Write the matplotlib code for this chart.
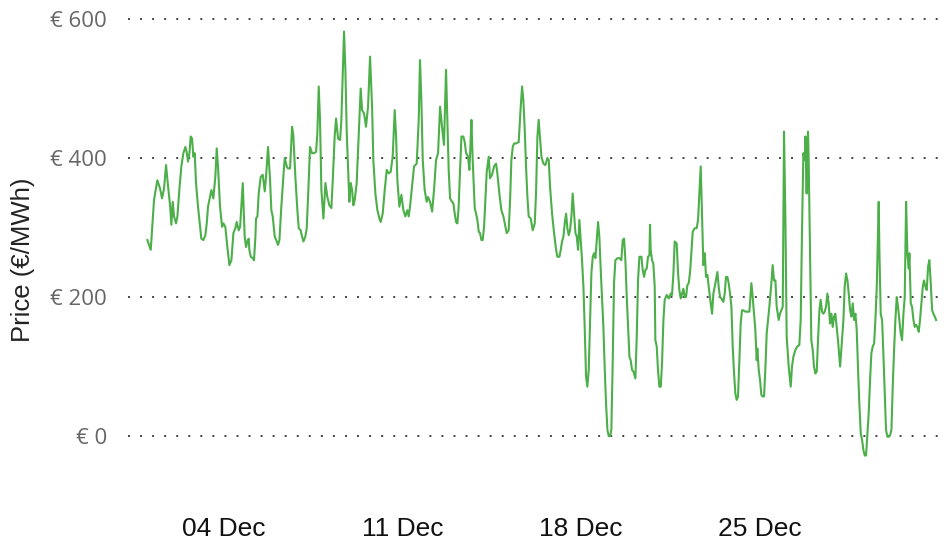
import matplotlib
matplotlib.use("Agg")
import matplotlib.pyplot as plt
import matplotlib.dates as mdates
from matplotlib.ticker import FuncFormatter
import pandas as pd

OUT = "out.png"

# hourly day-ahead price, Dec 2021 (hours since 01 Dec 00:00)
hours = [
    0.0, 3.2, 6.3, 9.4, 12.0, 13.8, 15.7, 17.6, 19.5, 21.4, 22.6, 23.9, 25.1, 27.0, 28.3, 30.1,
    32.0, 33.9, 35.8, 37.0, 38.3, 39.6, 40.8, 42.1, 43.3, 44.6, 45.8, 47.7, 49.0, 50.8, 52.7, 54.6,
    55.9, 57.1, 59.0, 60.3, 62.1, 64.0, 65.3, 66.5, 68.4, 70.3, 71.6, 73.4, 75.3, 77.2, 79.1, 81.0,
    82.8, 84.1, 86.0,
    87.3, 89.8, 91.6, 92.9, 94.1, 95.4, 96.0, 97.3, 99.2, 100.4, 101.7, 102.3, 103.6, 104.8, 106.7,
    108.6, 110.5, 111.7, 113.6, 115.5, 116.7, 118.0, 119.9, 121.8, 123.0, 124.3, 126.1, 128.0, 129.3,
    131.2, 132.4, 134.3, 136.2, 137.4, 139.3, 141.2, 142.5, 144.3, 145.6, 146.9, 148.7, 150.0, 151.9,
    153.1, 155.0, 156.9, 158.8, 160.0, 161.3, 162.5, 163.8, 165.7, 167.6, 169.4, 171.3, 173.2, 174.5,
    176.3, 177.6, 179.5,
    181.4, 182.6, 185.1, 186.4, 187.6, 188.9, 190.1, 191.4, 192.7, 193.9, 195.2, 197.0, 198.9, 200.8,
    202.1, 204.0, 205.8, 207.7, 209.6, 211.5, 212.7, 214.6, 216.5, 218.4, 219.6, 221.5, 223.4, 225.3,
    227.2, 229.0, 230.9, 232.8, 234.1, 235.3, 237.2, 239.1, 241.0, 242.8, 244.7, 246.0, 247.2, 249.1,
    251.0, 253.5, 255.4, 256.6, 257.9, 259.2, 261.0, 262.9, 264.2, 266.1, 268.0, 269.8, 271.7, 273.6,
    275.5, 276.7, 278.0, 279.2, 281.1, 282.4, 283.6, 284.9, 286.8, 288.0, 289.3, 290.5, 291.8, 293.0,
    294.3, 295.6, 297.4, 298.7, 300.0, 301.8, 303.1, 304.3, 305.0, 306.2, 308.1, 309.4, 310.6, 311.9,
    313.1, 314.4, 315.6, 316.9, 318.1, 319.4, 321.3, 322.5, 324.4, 326.3, 328.2, 329.4, 331.3, 333.2,
    335.1, 337.0, 338.2, 340.1, 341.4, 342.6, 343.9, 345.1, 347.0, 349.5, 351.4, 352.7, 353.9, 355.2,
    356.4, 357.7, 358.9, 360.8, 362.7, 364.6, 365.8, 367.1, 368.3,
    370.9, 372.7, 374.6, 376.5, 377.8, 379.0, 380.9, 382.8, 384.7, 385.9, 387.8, 389.1, 390.3, 391.6,
    392.8, 394.1, 395.3, 396.6, 397.8, 399.1, 400.3, 401.6, 402.9, 404.1, 405.4, 406.6, 407.9, 409.1,
    410.4, 411.6, 412.9, 414.1, 415.4, 416.7, 417.9, 419.2, 420.4, 421.7, 422.9, 424.2, 425.4, 426.7,
    427.9, 429.2, 430.5, 431.7, 433.0, 434.2, 435.5, 436.7, 438.0, 439.2, 440.5, 442.4, 444.3, 446.1,
    447.4, 448.7, 449.9, 451.2, 452.4, 453.7, 454.9, 456.2, 457.4, 459.3, 460.6, 461.8, 463.1,
    465.0, 466.2, 467.5, 468.7, 470.0, 471.2, 472.5, 473.1, 473.7, 475.0, 476.2, 477.5, 478.1, 479.4,
    480.6, 481.9, 483.2, 484.4, 485.7, 486.9, 488.8, 490.7, 492.6, 493.8, 495.1, 496.3, 498.2, 499.5,
    500.7, 502.0, 503.2, 504.5, 505.7, 507.0, 508.2, 509.5, 510.8, 512.0, 513.3, 515.1, 517.0, 518.3,
    519.5, 520.8, 522.0, 523.3, 524.6, 525.8, 527.1, 528.3, 530.2, 531.5, 532.7, 534.6, 536.5, 537.7,
    539.0, 540.2, 542.1, 543.4, 544.6, 545.9, 547.1, 548.4, 549.7, 550.9, 552.2, 553.4, 554.7, 555.9,
    557.2, 558.4, 559.7,
    560.9, 562.8, 564.7, 566.6, 568.5, 569.7, 571.0, 572.2, 573.5, 574.1, 575.4, 576.6, 577.9, 579.1,
    580.4, 581.6, 582.9, 584.2, 585.4, 587.3, 588.5, 589.8, 591.1, 592.3, 594.2, 595.4, 596.7, 598.0,
    599.2, 600.5, 601.7, 603.6, 605.5, 606.7, 608.0, 609.9, 611.8, 613.6, 614.9, 616.1, 617.4, 618.7,
    619.3, 619.9, 620.5, 621.2, 621.8, 622.4, 623.7, 624.9, 626.2, 627.4, 628.7, 630.0, 631.2, 632.5,
    633.7, 635.0, 636.2, 637.5, 638.7, 640.0, 641.2, 642.5, 643.8, 645.0, 646.3, 647.5, 648.8, 650.0,
    652.0, 653.8, 655.1, 656.3, 657.6, 658.9, 660.1, 661.4, 662.6, 663.9, 665.1, 666.4, 667.6, 668.9,
    670.1, 671.4, 672.7, 673.9, 675.2, 676.4, 677.7, 678.9, 680.2, 681.4, 682.7, 684.0, 685.2, 686.5,
    687.7, 688.3, 689.0, 690.2, 691.5, 692.7, 694.0, 695.2, 696.5, 697.8, 699.0, 700.3, 701.5, 702.8,
    704.0, 705.3, 706.5, 707.8, 709.0, 710.3, 711.6, 712.8, 714.1, 715.3, 716.6, 717.2, 718.5, 719.7,
    721.0, 722.2, 723.5, 724.7, 726.0, 727.2, 728.5, 729.8, 730.9, 732.3, 733.5, 734.8, 736.0, 737.3,
    738.6, 739.8, 741.1, 742.3,
]
price = [
    282, 268, 340, 368, 356, 342, 356, 390, 359, 332, 304, 337, 316, 306, 316, 354,
    388, 407, 416, 409, 395, 407, 431, 428, 402, 407, 364, 330, 311, 284, 282, 289,
    306, 330, 344, 354, 342, 373, 414, 388, 330, 301, 306, 301, 272, 246, 253, 292,
    299, 308, 296,
    301, 364, 287, 272, 280, 284, 268, 258, 256, 253, 287, 313, 316, 349, 373,
    376, 352, 373, 416, 368, 325, 316, 287, 280, 275, 282, 330, 373, 400,
    388, 385, 385, 445, 433, 373, 325, 299, 296, 287, 280, 287, 299, 368,
    416, 407, 407, 409, 435, 503, 455, 354, 313, 364, 344, 332, 328, 368,
    431, 457, 428,
    426, 455, 582, 527, 440, 388, 337, 364, 354, 332, 340, 364, 431, 500,
    469, 464, 445, 474, 546, 474, 397, 349, 325, 313, 308, 320, 354, 383,
    378, 380, 402, 469, 431, 368, 330, 347, 325, 316, 325, 316, 330, 359,
    388, 392, 455, 541, 483, 397, 354, 337, 344, 337, 323, 354, 397, 407,
    474, 455, 435, 419, 527, 455, 383, 342, 337, 335, 320, 308, 306, 330,
    383, 431, 431, 423, 407, 402, 383, 426, 455, 397, 328, 320, 311, 294,
    292, 282, 282, 301, 340, 380, 402, 371, 376, 388, 392, 378, 349, 325,
    316, 301, 292, 296, 340, 397, 416, 421, 421, 423, 474, 503, 483, 440,
    388, 344, 316, 313, 296, 306, 349, 431, 455,
    402, 392, 390, 400, 397, 359, 320, 292, 268, 258, 258, 268, 280, 287,
    306, 320, 299, 289, 296, 316, 349, 320, 292, 287, 268, 311, 282, 253,
    215, 157, 85, 71, 95, 167, 234, 258, 263, 256, 282, 308, 287, 239,
    200, 157, 95, 47, 9, 0, 0, 9, 109, 220, 253, 256, 256, 253,
    282, 284, 253, 200, 157, 114, 109, 95, 93, 83, 143, 224, 258,
    258, 239, 229, 239, 241, 258, 260, 304, 268, 253, 248, 215, 138, 129,
    95, 71, 71, 105, 167, 196, 203, 198, 205, 203, 234, 280, 277, 234,
    210, 198, 205, 212, 200, 200, 217, 220, 236, 263, 294, 299, 299, 311,
    349, 388, 320, 246, 263, 229, 232, 215, 191, 176, 205, 220, 236, 215,
    200, 198, 193, 205, 229, 229, 220, 205, 186, 129, 90, 61, 52, 57,
    109, 162, 181,
    181, 179, 179, 179, 220, 200, 176, 153, 109, 126, 95, 81, 59, 57,
    57, 95, 148, 167, 186, 220, 246, 224, 224, 186, 167, 176, 181, 186,
    438, 311, 143, 100, 71, 100, 114, 124, 129, 131, 167, 292, 407, 397,
    431, 392, 349, 421, 438, 397, 263, 138, 124, 100, 90, 93, 138, 181,
    196, 179, 176, 179, 186, 205, 191, 162, 176, 157, 172, 176, 157, 138,
    100, 138, 167, 215, 234, 224, 205, 181, 172, 191, 167, 176, 153, 95,
    47, 4, -6, -20, -28, -28, 4, 33, 81, 119, 129, 133, 167, 215,
    292, 337, 263, 176, 167, 119, 61, 9, -1, -1, 1, 9, 71, 124,
    167, 200, 186, 167, 148, 138, 176, 200, 337, 263, 241, 263, 191, 186,
    167, 157, 160, 157, 150, 167, 191, 215, 224, 215, 210, 244, 253, 220,
    181, 176, 172, 167,
]
yticks = [0, 200, 400, 600]
start = pd.Timestamp("2021-12-01")

times = start + pd.to_timedelta(hours, unit="h")

fig = plt.figure(figsize=(9.44, 5.42), dpi=100)
ax = fig.add_axes([0.1356, 0.0775, 0.8623, 0.904])

ax.plot(times, price, color="#4daf4a", linewidth=1.5)

ax.set_xlim(start - pd.Timedelta(hours=18.2), start + pd.Timedelta(hours=747.9))
ax.set_ylim(-92, 613)

ax.set_yticks(yticks)
ax.yaxis.set_major_formatter(FuncFormatter(lambda v, p: f"€ {v:.0f}"))
ax.xaxis.set_major_locator(mdates.DayLocator(bymonthday=[4, 11, 18, 25]))
ax.xaxis.set_major_formatter(mdates.DateFormatter("%d %b"))

ax.tick_params(axis="y", length=0, pad=15, labelsize=16, labelcolor="#666666")
ax.tick_params(axis="x", length=0, pad=12, labelsize=19, labelcolor="#111111")
for lab in ax.get_yticklabels():
    lab.set_family(["Open Sans", "DejaVu Sans"])
for lab in ax.get_xticklabels():
    lab.set_family(["Liberation Sans", "DejaVu Sans"])

ax.set_ylabel("Price (€/MWh)", fontsize=18.5, color="#222222", family=["Liberation Sans", "DejaVu Sans"])
ax.yaxis.set_label_coords(-0.114, 0.49)

ax.yaxis.grid(True, linestyle=(0, (1, 5.2)), linewidth=1.4, color="#444444")
ax.xaxis.grid(False)
for s in ax.spines.values():
    s.set_visible(False)

fig.savefig(OUT, dpi=100)
print("saved", OUT)
